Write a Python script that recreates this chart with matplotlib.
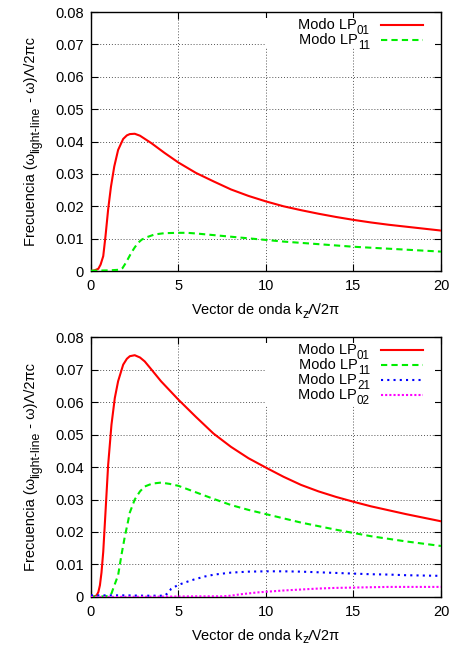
import matplotlib
matplotlib.use("Agg")
import matplotlib.pyplot as plt
from matplotlib.patches import Rectangle
from matplotlib.transforms import IdentityTransform

plt.rcParams['font.family'] = ['Liberation Sans', 'DejaVu Sans']

# ---- Top panel data ----
x_top_01 = [0, 0.2, 0.42, 0.55, 0.7, 0.83, 0.98, 1.14, 1.33, 1.55, 1.84, 2.05, 2.22, 2.5, 2.8, 3.45, 4.2, 5, 6, 7, 8, 9, 10, 11, 12, 13, 14, 15, 16, 17, 18, 19, 20]
y_top_01 = [0, 0.0002, 0.0007, 0.002, 0.0046, 0.0108, 0.019, 0.026, 0.0323, 0.0374, 0.0408, 0.0419, 0.0423, 0.0424, 0.0418, 0.0395, 0.0365, 0.0335, 0.0303, 0.0277, 0.0252, 0.0232, 0.0215, 0.0200, 0.0188, 0.0177, 0.0167, 0.0158, 0.0150, 0.0143, 0.0137, 0.0131, 0.0125]
x_top_11 = [0, 1.0, 1.65, 1.8, 1.93, 2.1, 2.31, 2.5, 2.69, 2.9, 3.16, 3.64, 4.2, 5.0, 5.5, 6, 7, 8, 9, 10, 11, 12, 13, 14, 15, 16, 17, 18, 19, 20]
y_top_11 = [0.0001, 0.0002, 0.0004, 0.0009, 0.002, 0.0036, 0.0057, 0.0073, 0.0087, 0.0097, 0.0104, 0.0113, 0.0117, 0.0118, 0.0118, 0.0116, 0.0111, 0.0106, 0.0101, 0.0096, 0.0091, 0.0087, 0.0083, 0.0079, 0.0075, 0.0072, 0.0069, 0.0066, 0.0063, 0.0060]

# ---- Bottom panel data ----
x_bot_01 = [0, 0.2, 0.32, 0.42, 0.51, 0.6, 0.7, 0.83, 0.98, 1.17, 1.36, 1.55, 1.84, 2.05, 2.22, 2.5, 2.8, 3.07, 3.5, 4.0, 5, 6, 7, 8, 9, 10, 11, 12, 13, 14, 15, 16, 17, 18, 19, 20]
y_bot_01 = [0, 0.0002, 0.0005, 0.0015, 0.0036, 0.0075, 0.0139, 0.0262, 0.0406, 0.053, 0.0612, 0.0664, 0.0715, 0.0733, 0.0741, 0.0744, 0.0737, 0.0725, 0.0697, 0.0664, 0.0607, 0.0554, 0.0503, 0.0462, 0.0427, 0.0398, 0.0370, 0.0345, 0.0325, 0.0308, 0.0293, 0.0279, 0.0267, 0.0255, 0.0244, 0.0233]
x_bot_11 = [0, 0.8, 1.08, 1.18, 1.27, 1.4, 1.55, 1.74, 1.93, 2.1, 2.22, 2.5, 2.8, 3.07, 3.5, 4.0, 4.5, 5, 6, 7, 8, 9, 10, 11, 12, 13, 14, 15, 16, 17, 18, 19, 20]
y_bot_11 = [0.0001, 0.0002, 0.0004, 0.0012, 0.0026, 0.0045, 0.0067, 0.0129, 0.0185, 0.0228, 0.026, 0.030, 0.0325, 0.034, 0.0349, 0.0352, 0.0348, 0.0342, 0.0322, 0.0302, 0.0283, 0.0268, 0.0255, 0.0242, 0.0229, 0.0218, 0.0207, 0.0197, 0.0187, 0.0179, 0.0171, 0.0164, 0.0157]
x_bot_21 = [0, 1, 2, 3, 4.2, 4.4, 4.58, 4.98, 5.5, 5.9, 6.5, 7.05, 8, 9, 10, 11, 12, 13, 14, 15, 16, 17, 18, 19, 20]
y_bot_21 = [0.0005, 0.0005, 0.0005, 0.0004, 0.0004, 0.0012, 0.0025, 0.0037, 0.0047, 0.0054, 0.0063, 0.0069, 0.0075, 0.0078, 0.0079, 0.0079, 0.0078, 0.0076, 0.0074, 0.0072, 0.0070, 0.0069, 0.0067, 0.0066, 0.0065]
x_bot_02 = [0, 4, 6, 7.5, 8.0, 8.5, 9, 9.5, 10, 11, 12, 13, 14, 15, 16, 17, 18, 19, 20]
y_bot_02 = [0.0, 0.0001, 0.0002, 0.0002, 0.0004, 0.0008, 0.0011, 0.0014, 0.0016, 0.0020, 0.0023, 0.0026, 0.0028, 0.0029, 0.0030, 0.0031, 0.0031, 0.0031, 0.0031]

xticks = [0, 5, 10, 15, 20]
yticks = [0, 0.01, 0.02, 0.03, 0.04, 0.05, 0.06, 0.07, 0.08]
ytick_labels = ['0', '0.01', '0.02', '0.03', '0.04', '0.05', '0.06', '0.07', '0.08']

# legend entries: base text + subscript (gnuplot "Modo LP_{01}")
legend_base = 'Modo LP'
legend_subs = ['01', '11', '21', '02']
colors = ['#ff0000', '#00ee00', '#0000ff', '#ff00ff']
styles = ['-', (0, (3, 2)), (0, (1, 2)), (0, (1, 1))]

# axis titles split into (text, is_subscript) pieces, gnuplot-style subscripts
xlabel_parts = [('Vector de onda k', False), ('z', True), ('Λ/2π', False)]
ylabel_parts = [('Frecuencia (ω', False), ('light-line', True), (' - ω)Λ/2πc', False)]

FS = 10.5
SUB_FS = 8.8
SUB_SHIFT = 4.5  # px
ROW_PX = 15.0

fig = plt.figure(figsize=(4.52, 6.47), dpi=100)
ax1 = fig.add_axes([0.2013, 0.5811, 0.7743, 0.4003])
ax2 = fig.add_axes([0.2013, 0.0773, 0.7743, 0.4018])


def style(ax):
    ax.set_xlim(0, 20)
    ax.set_ylim(0, 0.08)
    ax.set_xticks(xticks)
    ax.set_xticklabels([str(t) for t in xticks])
    ax.set_yticks(yticks)
    ax.set_yticklabels(ytick_labels)
    ax.tick_params(direction='in', top=True, right=True, length=5, labelsize=FS)
    ax.tick_params(axis='x', pad=6)
    ax.tick_params(axis='y', pad=5)
    ax.grid(True, color='#555555', linestyle=(0, (1, 2)), linewidth=0.7)
    ax.set_axisbelow(True)
    for s in ax.spines.values():
        s.set_linewidth(1.0)


series_top = [(x_top_01, y_top_01), (x_top_11, y_top_11)]
for i, (x, y) in enumerate(series_top):
    ax1.plot(x, y, color=colors[i], linestyle=styles[i], linewidth=1.5, zorder=3)
style(ax1)

series_bot = [(x_bot_01, y_bot_01), (x_bot_11, y_bot_11), (x_bot_21, y_bot_21), (x_bot_02, y_bot_02)]
for i, (x, y) in enumerate(series_bot):
    ax2.plot(x, y, color=colors[i], linestyle=styles[i], linewidth=1.5, zorder=3)
style(ax2)

renderer = fig.canvas.get_renderer()

# opaque key area (as gnuplot does), hiding the grid behind the legend
for ax, h, n in ((ax1, 35 / 259, 2), (ax2, 68 / 260, 4)):
    ax.add_patch(Rectangle((0.497, 1 - h), 1 - 0.497 - 6 / 350, h - 6 / 260,
                           transform=ax.transAxes, facecolor='white',
                           edgecolor='none', zorder=1))
    handles = ax.get_lines()[:n]
    ls = 0.0
    for _ in range(4):
        if ax.get_legend() is not None:
            ax.get_legend().remove()
        leg = ax.legend(handles, [' '] * n, loc='upper right',
                        bbox_to_anchor=(1 - 18 / 350, 1 - 10 / 260),
                        markerfirst=False, frameon=False, fontsize=FS,
                        handlelength=2.88, handletextpad=0.0,
                        labelspacing=ls, borderpad=0.0, borderaxespad=0.0)
        fig.canvas.draw()
        ys = [hl.get_window_extent(renderer) for hl in leg.legend_handles]
        d = (ys[0].y0 + ys[0].y1) / 2 - (ys[1].y0 + ys[1].y1) / 2
        ls += (ROW_PX - d) / (FS * fig.dpi / 72)
    # shift so the first sample line sits 13.3 px below the frame top
    axbb = ax.get_window_extent(renderer)
    bb0 = leg.legend_handles[0].get_window_extent(renderer)
    dy = (axbb.y1 - 13.3) - (bb0.y0 + bb0.y1) / 2
    # compose entry texts to the left of each sample line
    for i, hl in enumerate(leg.legend_handles):
        bb = hl.get_window_extent(renderer)
        yline = (bb.y0 + bb.y1) / 2 + dy
        xr = bb.x0 - 11
        ybase = yline - 3.6
        ts = fig.text(xr, ybase - 5, legend_subs[i], fontsize=8.4, ha='right',
                      va='baseline', transform=IdentityTransform())
        wsub = ts.get_window_extent(renderer).width
        fig.text(xr - wsub, ybase, legend_base, fontsize=FS, ha='right',
                 va='baseline', transform=IdentityTransform())
    leg.remove()
    leg = ax.legend(handles, [' '] * n, loc='upper right',
                    bbox_to_anchor=(1 - 18 / 350, 1 - 10 / 260 + dy / axbb.height),
                    markerfirst=False, frameon=False, fontsize=FS,
                    handlelength=2.88, handletextpad=0.0,
                    labelspacing=ls, borderpad=0.0, borderaxespad=0.0)

# ---- axis titles composed of pieces ----


def compose(parts, vertical, base_px, center_px):
    texts = []
    lengths = []
    for s, sub in parts:
        t = fig.text(0, 0, s, fontsize=SUB_FS if sub else FS,
                     rotation=90 if vertical else 0, rotation_mode='anchor',
                     ha='left', va='baseline', transform=IdentityTransform())
        bb = t.get_window_extent(renderer)
        lengths.append(bb.height if vertical else bb.width)
        texts.append((t, sub))
    total = sum(lengths)
    pos = center_px - total / 2
    for (t, sub), L in zip(texts, lengths):
        if vertical:
            t.set_position((base_px + (SUB_SHIFT if sub else 0), pos))
        else:
            t.set_position((pos, base_px - (SUB_SHIFT - 1 if sub else 0)))
        pos += L


for ax in (ax1, ax2):
    bb = ax.get_window_extent(renderer)
    compose(ylabel_parts, True, bb.x0 - 56, (bb.y0 + bb.y1) / 2)
    compose(xlabel_parts, False, bb.y0 - 43, (bb.x0 + bb.x1) / 2)

fig.savefig('out.png', dpi=100)
